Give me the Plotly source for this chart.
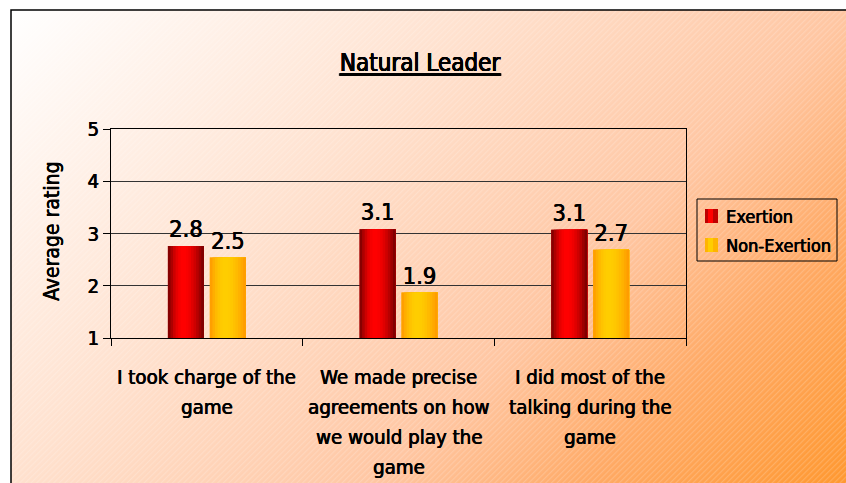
import base64
import math
import plotly.graph_objects as go

# ---- data ----
categories = [
    "I took charge of the game",
    "We made precise agreements on how we would play the game",
    "I did most of the talking during the game",
]
category_lines = [
    ["I took charge of the", "game"],
    ["We made precise", "agreements on how", "we would play the", "game"],
    ["I did most of the", "talking during the", "game"],
]
series_names = ["Exertion", "Non-Exertion"]
exertion = [2.76, 3.08, 3.07]
non_exertion = [2.54, 1.87, 2.69]
y_ticks = [1, 2, 3, 4, 5]

# ---- geometry / style ----
W, H = 846, 483
ML, MR, MT, MB = 111, 160, 129, 145
PW, PH = W - ML - MR, H - MT - MB
FONT = "DejaVu Sans Condensed, Liberation Sans Narrow, sans-serif"
HEAVY = "0.45px 0 0 black, -0.2px 0 0 black"  # thickens the regular face a little


def tf(size):
    return dict(family=FONT, size=size, color="black", shadow=HEAVY)


bar_w = 0.1875
gap = 0.03125
offsets = [-bar_w - gap / 2, gap / 2]
# (edge colour, centre colour) for the cylinder shading
shades = [((112, 0, 0), (255, 0, 0)), ((255, 150, 0), (255, 205, 0))]
solid = ["#d00000", "#ffb400"]
N_STRIPS = 14


def px_x(px):
    return (px - ML) / PW


def px_y(py):
    return (H - MB - py) / PH


def mix(a, b, t):
    return "rgb(%d,%d,%d)" % tuple(round(a[k] + (b[k] - a[k]) * t) for k in range(3))


def shade_at(t):
    # bright band slightly left of centre, dark towards both edges
    peak = 0.42
    if t <= peak:
        u = t / peak
    else:
        u = (1 - t) / (1 - peak)
    return math.sin(u * math.pi / 2) ** 0.9


fig = go.Figure()

for s, (name, vals) in enumerate(zip(series_names, [exertion, non_exertion])):
    # base bar carrying the value label
    fig.add_trace(go.Bar(
        x=categories, y=vals, name=name, showlegend=False,
        width=bar_w, offset=offsets[s],
        marker=dict(color=solid[s], line=dict(width=0)),
        texttemplate="%{y:.1f}",
        textposition="outside", constraintext="none", cliponaxis=False,
        textfont=tf(23.5),
        hoverinfo="skip",
    ))
    # shading strips, each running from its start to the bar's right edge
    edge, centre = shades[s]
    for i in range(N_STRIPS):
        t = (i + 0.5) / N_STRIPS
        start = i * bar_w / N_STRIPS
        fig.add_trace(go.Bar(
            x=categories, y=vals, name=name, showlegend=False,
            width=bar_w - start, offset=offsets[s] + start,
            marker=dict(color=mix(edge, centre, shade_at(t)), line=dict(width=0)),
            hoverinfo="skip",
        ))

# chart-area background: diagonal white-to-orange wash with fine hatching
bw_, bh_ = W - 11, H - 10
svg = f'''<svg xmlns="http://www.w3.org/2000/svg" width="{bw_}" height="{bh_}">
<defs>
<linearGradient id="g" gradientUnits="userSpaceOnUse" x1="0" y1="0" x2="{(bw_ + bh_) / 2}" y2="{(bw_ + bh_) / 2}">
<stop offset="0" stop-color="#ffffff"/>
<stop offset="0.35" stop-color="#ffe2d0"/>
<stop offset="0.64" stop-color="#ffc6a2"/>
<stop offset="0.8" stop-color="#ffaa66"/>
<stop offset="1" stop-color="#ff9830"/>
</linearGradient>
<pattern id="p" width="4" height="4" patternUnits="userSpaceOnUse" patternTransform="rotate(45)">
<rect width="1.2" height="4" fill="#ffffff" fill-opacity="0.18"/>
</pattern>
</defs>
<rect width="{bw_}" height="{bh_}" fill="url(#g)"/>
<rect width="{bw_}" height="{bh_}" fill="url(#p)"/>
</svg>'''
bg_uri = "data:image/svg+xml;base64," + base64.b64encode(svg.encode()).decode()

annotations = []
for cat, lines in zip(categories, category_lines):
    for j, line in enumerate(lines):
        annotations.append(dict(
            x=cat, xref="x", y=0, yref="paper", yanchor="middle",
            yshift=-(39 + 30 * j), text=line, showarrow=False,
            font=tf(20.3),
        ))
# y-axis title, centred in the left margin
annotations.append(dict(
    x=px_x(52), xref="paper", y=px_y(232), yref="paper",
    xanchor="center", yanchor="middle",
    text="Average rating", textangle=-90, showarrow=False,
    font=tf(21),
))

shapes = [dict(type="rect", xref="paper", yref="paper",
               x0=px_x(11), x1=px_x(W + 5), y0=px_y(H + 5), y1=px_y(10),
               line=dict(color="black", width=1.5), layer="above")]

# legend box in the right margin: frame, colour keys and series names
LEG_X0, LEG_X1, LEG_Y0, LEG_Y1 = 697, 837, 199, 261
shapes.append(dict(type="rect", xref="paper", yref="paper",
                   x0=px_x(LEG_X0), x1=px_x(LEG_X1), y0=px_y(LEG_Y1), y1=px_y(LEG_Y0),
                   line=dict(color="black", width=1), fillcolor="rgba(0,0,0,0)"))
key_rows = [216, 245]
for s, (name, cy) in enumerate(zip(series_names, key_rows)):
    edge, centre = shades[s]
    # two-tone key square: darker rim, brighter core
    shapes.append(dict(type="rect", xref="paper", yref="paper",
                       x0=px_x(705), x1=px_x(718), y0=px_y(cy + 7), y1=px_y(cy - 7),
                       line=dict(width=0), fillcolor=mix(edge, centre, 0.55)))
    shapes.append(dict(type="rect", xref="paper", yref="paper",
                       x0=px_x(708), x1=px_x(713), y0=px_y(cy + 7), y1=px_y(cy - 7),
                       line=dict(width=0), fillcolor=mix(edge, centre, 1.0)))
    annotations.append(dict(
        x=px_x(724), xref="paper", y=px_y(cy), yref="paper",
        xanchor="left", yanchor="middle", text=name, showarrow=False,
        font=tf(18),
    ))

fig.update_layout(
    width=W, height=H, autosize=False,
    margin=dict(l=ML, r=MR, t=MT, b=MB, pad=0),
    paper_bgcolor="white", plot_bgcolor="#ffffcc",
    barmode="overlay", showlegend=False,
    font=dict(family=FONT, color="black"),
    title=dict(text="<u>Natural Leader</u>", x=420 / W, xref="container",
               y=1 - 63 / H, yref="container", yanchor="middle", xanchor="center",
               font=tf(24)),
    xaxis=dict(type="category", range=[-0.5, 2.5], showticklabels=False,
               ticks="outside", tickson="boundaries", ticklen=7, tickcolor="black",
               showline=True, linecolor="black", linewidth=1, mirror=True,
               showgrid=False, zeroline=False),
    yaxis=dict(range=[1, 5], tickvals=y_ticks,
               ticks="outside", ticklen=7,
               tickcolor="black", tickfont=tf(20),
               showline=True, linecolor="black", linewidth=1, mirror=True,
               showgrid=True, gridcolor="#333333", gridwidth=1, zeroline=False),
    annotations=annotations,
    images=[dict(source=bg_uri, xref="paper", yref="paper",
                 x=px_x(11), y=px_y(10), sizex=bw_ / PW, sizey=bh_ / PH,
                 xanchor="left", yanchor="top", sizing="stretch", layer="below")],
    shapes=shapes,
)

fig.write_html("out.html", config={"responsive": False})
